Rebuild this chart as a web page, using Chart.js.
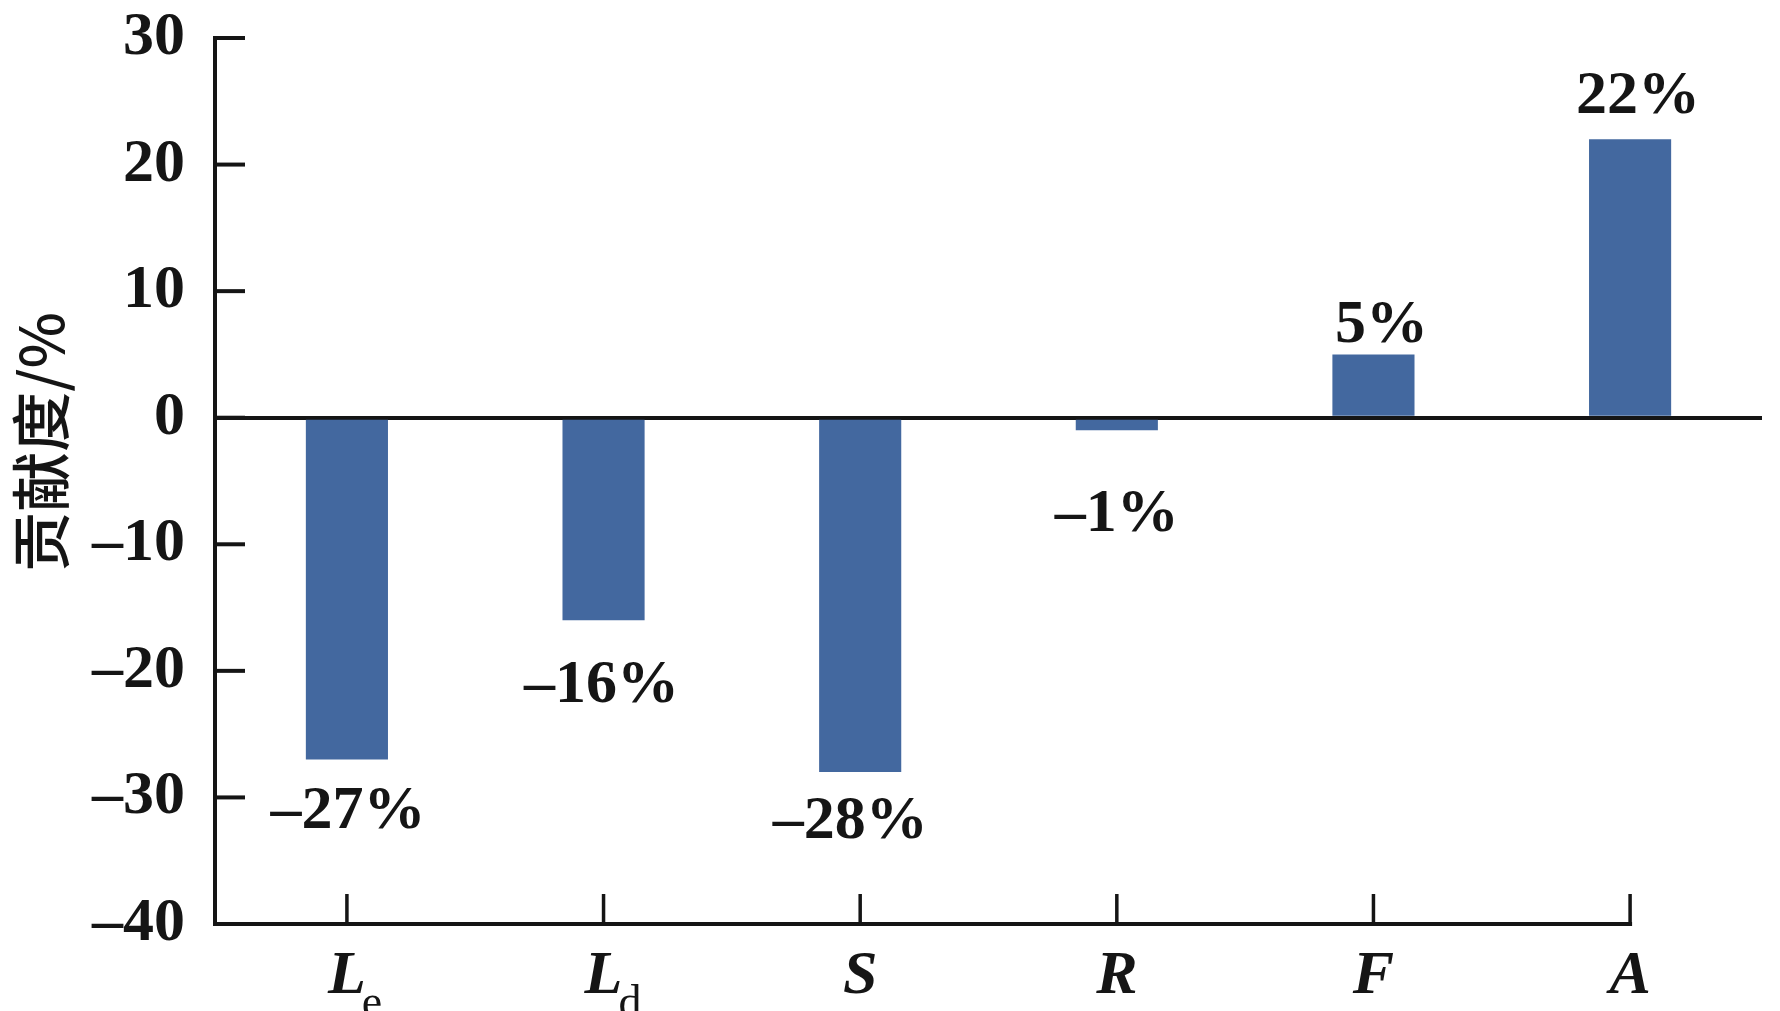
<!DOCTYPE html>
<html>
<head>
<meta charset="utf-8">
<title>贡献度</title>
<script src="https://cdn.jsdelivr.net/npm/chart.js@4.4.1/dist/chart.umd.min.js"></script>
<style>
    html, body { margin: 0; padding: 0; background: #fff; }
    #wrap { width: 1780px; height: 1011px; }
</style>
</head>
<body>
<div id="wrap"><canvas id="contribChart"></canvas></div>
<script>
// Chart data
const categories = ['Le', 'Ld', 'S', 'R', 'F', 'A'];   // first letter italic, rest subscript
const contribution = [-27, -16, -28, -1, 5, 22];
const yTickValues = [-40, -30, -20, -10, 0, 10, 20, 30];
const yAxisTitle = '贡献度/%';

const barColor = '#43689f';
const ink = '#151515';
const serif = '"Liberation Serif", "Times New Roman", serif';

// minus sign like the printed figure
function fmt(v) {
    return (v < 0 ? '\u2013' : '') + Math.abs(v);
}

// Inner ticks, bottom axis, category labels, bar labels and y title
const decorations = {
    id: 'decorations',
    afterDraw(chart, args, opts) {
        const ctx = chart.ctx;
        const xs = chart.scales.x;
        const ys = chart.scales.y;
        const area = chart.chartArea;
        ctx.save();
        ctx.strokeStyle = ink;
        ctx.fillStyle = ink;

        // y ticks pointing inwards
        ctx.lineWidth = 4;
        yTickValues.forEach(v => {
            const py = ys.getPixelForValue(v);
            ctx.beginPath();
            ctx.moveTo(area.left, py);
            ctx.lineTo(area.left + 30, py);
            ctx.stroke();
        });

        // bottom axis ends at the last category tick
        const lastX = xs.getPixelForValue(categories.length - 1);
        ctx.beginPath();
        ctx.moveTo(area.left - 2, area.bottom);
        ctx.lineTo(lastX + 2, area.bottom);
        ctx.stroke();

        // x ticks pointing up
        ctx.lineWidth = 3.5;
        categories.forEach((c, i) => {
            const px = xs.getPixelForValue(i);
            ctx.beginPath();
            ctx.moveTo(px, area.bottom);
            ctx.lineTo(px, area.bottom - 30);
            ctx.stroke();
        });

        // category labels with subscripts
        ctx.textBaseline = 'alphabetic';
        categories.forEach((c, i) => {
            const px = xs.getPixelForValue(i);
            const main = c.charAt(0);
            const sub = c.slice(1);
            ctx.font = 'italic bold 62px ' + serif;
            const w = ctx.measureText(main).width;
            ctx.textAlign = 'left';
            ctx.fillText(main, px - w / 2, area.bottom + 69);
            if (sub) {
                ctx.font = '46px ' + serif;
                ctx.fillText(sub, px + w / 2 - 4, area.bottom + 93);
            }
        });

        // value labels next to the bar ends
        const meta = chart.getDatasetMeta(0);
        ctx.font = 'bold 62px ' + serif;
        ctx.textAlign = 'center';
        ctx.textBaseline = 'middle';
        meta.data.forEach((bar, i) => {
            const v = contribution[i];
            const gap = opts.gap[i];
            const py = v < 0 ? bar.y + gap : bar.y - gap;
            ctx.fillText(fmt(v) + '%', bar.x + opts.shift[i], py);
        });

        // y axis title
        ctx.translate(41, 442);
        ctx.rotate(-Math.PI / 2);
        ctx.font = '500 60px "Noto Sans CJK SC", sans-serif';
        ctx.fillText(yAxisTitle, 0, 0);
        ctx.restore();
    }
};

const ctx = document.getElementById('contribChart').getContext('2d');
new Chart(ctx, {
    type: 'bar',
    data: {
        datasets: [{
            data: contribution.map((v, i) => ({ x: i, y: v })),
            backgroundColor: barColor,
            borderWidth: 0,
            barPercentage: 0.32,
            categoryPercentage: 1
        }]
    },
    options: {
        responsive: true,
        maintainAspectRatio: false,
        animation: false,
        devicePixelRatio: 1,
        layout: { padding: { left: 0, right: 18, top: 38, bottom: 0 } },
        plugins: {
            legend: { display: false },
            tooltip: { enabled: false },
            decorations: {
                gap: [53, 66, 50, 85, 28, 42],
                shift: [1, -2, -10, 0, 8, 8]
            }
        },
        scales: {
            x: {
                type: 'linear',
                min: -0.514,
                max: 5.514,
                offset: false,
                afterBuildTicks(scale) {
                    scale.ticks = categories.map((c, i) => ({ value: i }));
                },
                ticks: { display: false },
                grid: { display: false },
                border: { display: false },
                afterFit(scale) { scale.height = 87; }
            },
            y: {
                min: -40,
                max: 30,
                z: 1,
                afterBuildTicks(scale) {
                    scale.ticks = yTickValues.map(v => ({ value: v }));
                },
                ticks: {
                    color: ink,
                    padding: 30,
                    font: { family: serif, size: 62, weight: 'bold' },
                    callback: v => fmt(v)
                },
                grid: {
                    drawTicks: false,
                    lineWidth: 4,
                    color: c => (c.tick && c.tick.value === 0) ? ink : 'rgba(0,0,0,0)'
                },
                border: { display: true, color: ink, width: 4 },
                afterFit(scale) {
                    scale.width = 215;
                    scale.paddingTop = 0;
                    scale.paddingBottom = 0;
                }
            }
        }
    },
    plugins: [decorations]
});
</script>
</body>
</html>
